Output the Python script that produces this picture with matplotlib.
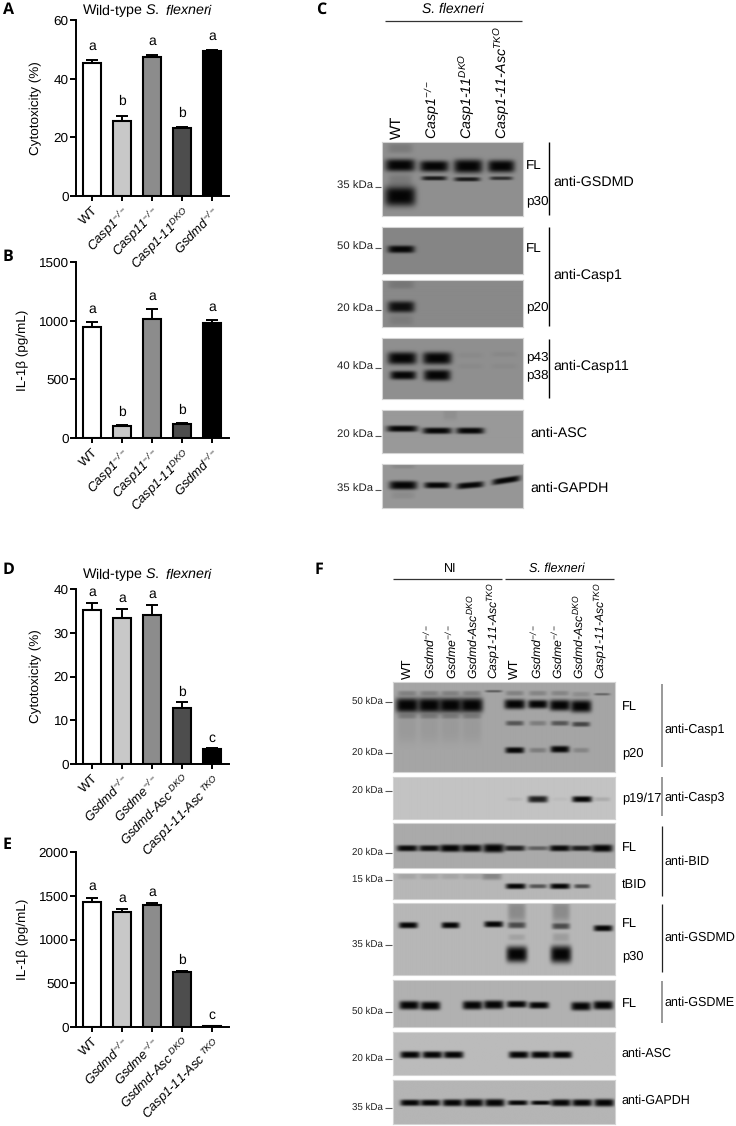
import numpy as np
import matplotlib
matplotlib.use("Agg")
import matplotlib.pyplot as plt

plt.rcParams['font.family'] = ['Liberation Sans', 'DejaVu Sans']
plt.rcParams['mathtext.fontset'] = 'custom'
plt.rcParams['mathtext.rm'] = 'Liberation Sans'
plt.rcParams['mathtext.it'] = 'Liberation Sans:italic'
plt.rcParams['mathtext.bf'] = 'Liberation Sans:bold'
plt.rcParams['mathtext.default'] = 'regular'
plt.rcParams['text.hinting'] = 'no_hinting'

W, H = 736, 1126

# bar chart data
bar_colors = ['white', '#c8c8c8', '#8c8c8c', '#4d4d4d', 'black']

labels_ab = ['WT', 'Casp1$^{-/-}$', 'Casp11$^{-/-}$', 'Casp1-11$^{DKO}$', 'Gsdmd$^{-/-}$']
labels_de = ['WT', 'Gsdmd$^{-/-}$', 'Gsdme$^{-/-}$', 'Gsdmd-Asc$^{\\ DKO}$', 'Casp1-11-Asc$^{\\ TKO}$']

a_means = [45.5, 25.5, 47.3, 23.3, 49.3]
a_errs = [0.9, 1.9, 0.8, 0.3, 0.4]
a_letters = ['a', 'b', 'a', 'b', 'a']

b_means = [950, 100, 1015, 120, 980]
b_errs = [40, 10, 85, 8, 25]
b_letters = ['a', 'b', 'a', 'b', 'a']

d_means = [35.3, 33.4, 34.0, 12.7, 3.4]
d_errs = [1.5, 2.0, 2.3, 1.4, 0.2]
d_letters = ['a', 'a', 'a', 'b', 'c']

e_means = [1430, 1310, 1390, 625, 10]
e_errs = [50, 35, 30, 10, 3]
e_letters = ['a', 'a', 'a', 'b', 'c']

fig = plt.figure(figsize=(W / 100, H / 100), dpi=100)

# overlay in pixel coordinates for the annotations of the blots
ov = fig.add_axes([0, 0, 1, 1], zorder=5)
ov.set_xlim(0, W)
ov.set_ylim(H, 0)
ov.axis('off')
ov.patch.set_alpha(0)


def px_axes(x0, y0, x1, y1):
    return fig.add_axes([x0 / W, 1 - y1 / H, (x1 - x0) / W, (y1 - y0) / H])


def bar_panel(top, bottom, means, errs, letters, labels, ymax, step, ylabel, label_x, gap, title=None, title_y=0):
    ax = px_axes(76, top, 229, bottom)
    x = np.arange(len(means))
    ax.errorbar(x, means, yerr=[np.zeros(len(errs)), errs], fmt='none', ecolor='black',
                elinewidth=1.4, capsize=4, capthick=1.4, zorder=1)
    ax.bar(x, means, width=0.62, color=bar_colors, edgecolor='black', linewidth=1.5, zorder=2)
    for i in range(len(means)):
        ax.annotate(letters[i], (i, means[i] + errs[i]), xytext=(0, gap), textcoords='offset pixels',
                    ha='center', va='center', fontsize=10)
    ax.set_xlim(-0.53, 4.57)
    ax.set_ylim(0, ymax)
    ax.set_yticks(np.arange(0, ymax + 1, step))
    ax.set_xticks(x)
    ax.set_xticklabels(labels, rotation=45, ha='right', rotation_mode='anchor', fontsize=9.4, fontstyle='italic')
    ax.get_xticklabels()[0].set_fontstyle('normal')
    ax.tick_params(axis='y', length=4.2, width=1.4, pad=1, labelsize=9.7)
    ax.tick_params(axis='x', length=3.6, width=1.4, pad=2)
    ax.spines['top'].set_visible(False)
    ax.spines['right'].set_visible(False)
    ax.spines['left'].set_linewidth(1.4)
    ax.spines['bottom'].set_linewidth(1.4)
    ax.patch.set_alpha(0)
    ax.set_ylabel(ylabel, fontsize=9.7)
    ax.yaxis.set_label_coords((label_x - 76) / 153, 0.5)
    if title:
        ov.text(148, title_y, title, ha='center', va='center', fontsize=10.3)


flex_title = 'Wild-type $\\mathit{S.\\ flexneri}$'
bar_panel(20, 196, a_means, a_errs, a_letters, labels_ab, 60, 20, 'Cytotoxicity (%)', 42, 14, flex_title, 11)
bar_panel(262, 438, b_means, b_errs, b_letters, labels_ab, 1500, 500, 'IL-1β (pg/mL)', 29, 13)
bar_panel(589, 764, d_means, d_errs, d_letters, labels_de, 40, 10, 'Cytotoxicity (%)', 42, 10.5, flex_title, 575)
bar_panel(852, 1027, e_means, e_errs, e_letters, labels_de, 2000, 500, 'IL-1β (pg/mL)', 29, 11)


# blots: each band is (x, y, width, height, darkness, tilt) inside its panel
def blot(x0, y0, x1, y1, bg, bands):
    w, h = x1 - x0, y1 - y0
    xs, ys = np.meshgrid(np.arange(0, w, 0.5), np.arange(0, h, 0.5))
    light = np.ones(xs.shape)
    for b in bands:
        cx, cy, bw, bh, dark = b[:5]
        tilt = b[5] if len(b) > 5 else 0
        prof = np.exp(-np.abs((xs - cx) / (bw / 2)) ** 5)
        prof = prof * np.exp(-np.abs((ys - cy - tilt * (xs - cx)) / (bh * 0.62)) ** 3.2)
        light = light * (1 - dark * prof)
    ax = px_axes(x0, y0, x1, y1)
    ax.imshow((bg / 255) * light + 0.02, cmap='gray', vmin=0, vmax=1, extent=[0, w, h, 0],
              aspect='auto', interpolation='bilinear')
    ax.set_xticks([])
    ax.set_yticks([])
    for s in ax.spines.values():
        s.set_color('#d4d4d4')
        s.set_linewidth(0.8)


# panel C
blot(382, 142, 523, 216, 138, [
    (18, 23, 30, 10, 1), (52, 24, 29, 9, 1), (86, 24, 29, 11, 1), (119, 24, 27, 10, 1),
    (52, 36, 25, 3.5, 0.85), (85, 37, 26, 3.5, 0.85), (119, 36, 23, 3, 0.7),
    (18, 54, 31, 16, 1), (18, 38, 24, 10, 0.15), (18, 6, 25, 8, 0.15)])
blot(382, 227, 523, 274, 128, [(19, 22, 27, 6, 1)])
blot(382, 280, 523, 327, 132, [(19, 27, 27, 9, 0.93), (19, 5, 26, 7, 0.14), (19, 40, 24, 8, 0.1)])
blot(382, 338, 523, 399, 138, [
    (20, 20, 29, 10, 1), (55, 20, 29, 10, 1), (21, 37, 26, 7, 1), (55, 37, 27, 9, 1),
    (88, 17, 25, 4, 0.04), (122, 16, 25, 4, 0.05), (88, 28, 25, 4, 0.04), (122, 28, 25, 4, 0.04)])
blot(382, 410, 523, 453, 148, [(20, 19, 31, 5, 1), (55, 21, 29, 5, 1), (88, 21, 28, 5, 1), (68, 5, 14, 9, 0.07)])
blot(382, 464, 523, 508, 146, [
    (21, 21, 28, 7, 1), (55, 21, 26, 5, 1), (88, 21, 27, 5, 1, -0.08), (124, 16, 28, 5, 1, -0.15),
    (21, 31, 24, 6, 0.08), (21, 2, 24, 4, 0.1)])

# panel F
lanes = [14, 36, 57, 78, 100, 121, 144, 166, 187, 208]

casp1_bands = [(lanes[i], 23, 23, 12, 1) for i in range(4)]
casp1_bands += [(lanes[i], 11, 19, 4, 0.22) for i in range(4)]
casp1_bands += [(lanes[i], 34, 19, 4, 0.22) for i in range(4)]
casp1_bands += [(lanes[i], 45, 20, 26, 0.07) for i in range(4)]
casp1_bands += [(lanes[4], 9, 17, 2, 0.45), (lanes[9], 12, 16, 2, 0.4)]
casp1_bands += [(121, 22, 21, 8, 1), (144, 22, 20, 7, 1), (166, 23, 21, 9, 1), (187, 24, 21, 10, 1)]
casp1_bands += [(121, 11, 18, 4, 0.22), (144, 11, 18, 4, 0.2), (166, 11, 18, 4, 0.2), (187, 12, 18, 4, 0.15)]
casp1_bands += [(121, 41, 18, 4, 0.5), (144, 41, 17, 4, 0.25), (166, 41, 18, 4, 0.5), (187, 42, 18, 4, 0.6)]
casp1_bands += [(121, 68, 19, 5, 1), (144, 68, 17, 4, 0.25), (166, 67, 19, 5.5, 1), (187, 68, 16, 4, 0.2)]
blot(393, 682, 615, 772, 160, casp1_bands)

blot(393, 777, 615, 819, 190, [
    (121, 22, 16, 3, 0.06), (144, 22, 20, 5.5, 0.85), (166, 22, 16, 3, 0.04),
    (188, 22, 20, 5, 1), (208, 22, 16, 3.5, 0.12)])

bid_dark = [0.97, 0.95, 1, 1, 1, 0.85, 0.45, 0.97, 0.85, 1]
bid_h = [5, 5, 6, 6, 7, 4.5, 3.5, 5, 4.5, 6]
blot(393, 823, 615, 868, 165, [(lanes[i], 25, 21, bid_h[i], bid_dark[i]) for i in range(10)])

tbid_bands = [(lanes[i], 3, 19, 5, 0.1) for i in range(4)]
tbid_bands += [(98, 3, 20, 6, 0.28), (122, 13, 20, 4.5, 1), (144, 13, 18, 3.5, 0.55), (166, 13, 20, 4.5, 1), (188, 13, 16, 3.5, 0.6)]
blot(393, 873, 615, 899, 178, tbid_bands)

blot(393, 903, 615, 975, 178, [
    (15, 22, 19, 5, 1), (57, 22, 18, 5, 1), (100, 21, 19, 5, 1), (209, 25, 19, 5, 1),
    (123, 22, 18, 5, 0.6), (167, 23, 18, 5, 0.6), (123, 8, 18, 18, 0.25), (167, 8, 18, 18, 0.25),
    (123, 34, 17, 5, 0.12), (167, 34, 17, 7, 0.15), (123, 51, 21, 13, 1), (167, 51, 21, 14, 1)])

gsdme_x = [16, 37, 79, 100, 123, 145, 187, 209]
gsdme_y = [25, 25.5, 25, 24.5, 24, 25, 26, 25]
gsdme_h = [7, 7, 7, 7, 5.5, 5.5, 7, 7]
blot(393, 980, 615, 1027, 172, [(gsdme_x[i], gsdme_y[i], 20, gsdme_h[i], 1) for i in range(8)])

asc_x = [17, 39, 60, 125, 147, 168]
blot(393, 1032, 615, 1075, 182, [(c, 23, 20, 5.5, 1) for c in asc_x])

gapdh_x = [17, 37, 59, 80, 101, 124, 147, 167, 188, 210]
gapdh_h = [5, 5, 5.5, 6, 6, 4, 3.5, 5.5, 5.5, 6]
blot(393, 1080, 615, 1124, 176, [(gapdh_x[i], 23, 20, gapdh_h[i], 1) for i in range(10)])


def put(x, y, s, size=9.5, **kw):
    kw.setdefault('va', 'center')
    ov.text(x, y, s, fontsize=size, **kw)


def vline(x, y0, y1, color='black', lw=1.0):
    ov.plot([x, x], [y0, y1], color=color, lw=lw, solid_capstyle='butt')


def hline(x0, x1, y, color='#333333', lw=0.9):
    ov.plot([x0, x1], [y, y], color=color, lw=lw, solid_capstyle='butt')


# panel letters
for s, px, py in [('A', 3, 10), ('B', 3, 257), ('C', 316, 10), ('D', 3, 570), ('E', 3, 845), ('F', 315, 570)]:
    ov.text(px, py, s, fontsize=11.5, fontweight='bold', family='Open Sans', va='center')

# panel C text
put(453, 9, 'S. flexneri', 10, ha='center', fontstyle='italic')
hline(385, 522, 21)
c_cols = [(397, 'WT', 10.8, 'normal'), (432, 'Casp1$^{-/-}$', 10.3, 'italic'),
          (467, 'Casp1-11$^{DKO}$', 10.3, 'italic'), (502, 'Casp1-11-Asc$^{TKO}$', 10.3, 'italic')]
for px, s, size, style in c_cols:
    ov.text(px, 139, s, rotation=90, ha='center', va='bottom', fontsize=size, fontstyle=style)
for s, py in [('35 kDa', 186), ('50 kDa', 247), ('20 kDa', 309), ('40 kDa', 367), ('20 kDa', 435), ('35 kDa', 489)]:
    put(373, py, s, 8.2, ha='right', color='#222222')
    hline(375, 381, py + 1, '#555555', 0.8)
for px, py, s in [(526, 166, 'FL'), (526, 201, 'p30'), (526, 249, 'FL'), (526, 307, 'p20'),
                  (526, 357, 'p43'), (526, 375, 'p38')]:
    put(px, py, s, 9.7)
for px, py, s in [(553, 182, 'anti-GSDMD'), (553, 275, 'anti-Casp1'), (553, 366, 'anti-Casp11'),
                  (530, 433, 'anti-ASC'), (530, 488, 'anti-GAPDH')]:
    put(px, py, s, 10.3)
vline(549, 142, 215)
vline(549, 227, 326)
vline(549, 339, 398)

# panel F text
put(450, 569, 'NI', 9, ha='center')
put(557, 569, 'S. flexneri', 9, ha='center', fontstyle='italic')
hline(393, 502, 579)
hline(505, 614, 579)
f_cols = ['WT', 'Gsdmd$^{-/-}$', 'Gsdme$^{-/-}$', 'Gsdmd-Asc$^{DKO}$', 'Casp1-11-Asc$^{TKO}$'] * 2
f_x = [408, 429, 451, 472, 493, 515, 536, 557, 578, 600]
for px, s in zip(f_x, f_cols):
    if s == 'WT':
        ov.text(px, 679, s, rotation=90, ha='center', va='bottom', fontsize=9.5)
    else:
        ov.text(px, 679, s, rotation=90, ha='center', va='bottom', fontsize=8.8, fontstyle='italic')
for s, py in [('50 kDa', 701), ('20 kDa', 752), ('20 kDa', 790), ('20 kDa', 852), ('15 kDa', 879),
              ('35 kDa', 944), ('50 kDa', 1011), ('20 kDa', 1058), ('35 kDa', 1107)]:
    put(383, py, s, 7, ha='right', color='#222222')
    hline(385, 392, py + 1, '#555555', 0.8)
for py, s in [(707, 'FL'), (753, 'p20'), (799, 'p19/17'), (848, 'FL'), (886, 'tBID'),
              (924, 'FL'), (956, 'p30'), (1004, 'FL')]:
    put(622, py, s, 9.3)
for px, py, s in [(664, 730, 'anti-Casp1'), (664, 798, 'anti-Casp3'), (664, 862, 'anti-BID'),
                  (664, 938, 'anti-GSDMD'), (664, 1003, 'anti-GSDME'), (621, 1054, 'anti-ASC'),
                  (621, 1101, 'anti-GAPDH')]:
    put(px, py, s, 9)
vline(662, 684, 767, '#888888', 1.2)
vline(662, 777, 816, '#888888', 1.2)
vline(662, 826, 896, '#222222', 0.9)
vline(662, 904, 972, '#222222', 0.9)
vline(662, 981, 1023, '#888888', 1.2)

fig.savefig('out.png', dpi=100)
